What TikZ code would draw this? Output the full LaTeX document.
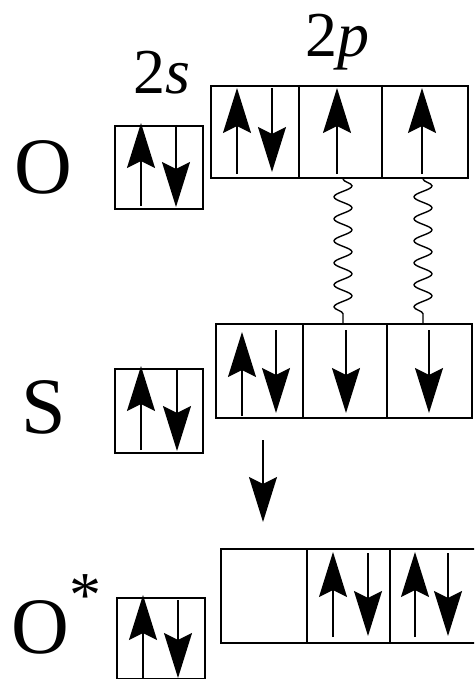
\documentclass[tikz,border=0pt]{standalone}
\usepackage{fontspec}
\setmainfont{Liberation Serif}
\newfontfamily\timesfont{Liberation Serif}
\usetikzlibrary{arrows.meta,decorations.pathmorphing}
\tikzset{
  orb/.style={draw=black, line width=1.8pt, inner sep=0pt, anchor=north west},
  divider/.style={line width=1.8pt},
  spin/.style={line width=1.6pt, -{Stealth[length=45pt, width=28pt, inset=7pt]}},
  bond/.style={line width=1.4pt, decorate, decoration={snake, segment length=22pt, amplitude=9pt}},
  atom/.style={font=\timesfont\fontsize{80}{80}\selectfont, inner sep=0pt},
  lvl/.style={font=\timesfont\fontsize{64}{64}\selectfont, inner sep=0pt},
}
\begin{document}
\begin{tikzpicture}[x=1pt, y=-1pt]
\useasboundingbox (0,0) rectangle (474,679);
\clip (0,0) rectangle (474,679);
% labels
\node[atom] (lO) at (43,167) {O};
\node[atom] (lS) at (44,407) {S};
\node[atom] (lOs) at (40,627) {O};
\node[lvl] (ast) at (85,596) {*};
\node[lvl] (l2s) at (162,73) {2\itshape s};
\node[lvl] (l2p) at (337,42) {2\itshape p};
% ---- O ----
\node[orb, minimum width=88pt, minimum height=83pt] (O2s) at (114,125) {};
\node[orb, minimum width=257pt, minimum height=92pt] (O2p) at (210,85) {};
\draw[divider] (299,85) -- (299,177);
\draw[divider] (382,85) -- (382,177);
\draw[spin] (141,206) -- (141,123);
\draw[spin] (176,125) -- (176,207);
\draw[spin] (237,174) -- (237,88);
\draw[spin] (272,88) -- (272,172);
\draw[spin] (337,174) -- (337,88);
\draw[spin] (422,174) -- (422,88);
% ---- S ----
\node[orb, minimum width=88pt, minimum height=84pt] (S2s) at (114,368) {};
\node[orb, minimum width=256pt, minimum height=94pt] (S2p) at (215,323) {};
\draw[divider] (303,323) -- (303,417);
\draw[divider] (387,323) -- (387,417);
\draw[spin] (141,450) -- (141,366);
\draw[spin] (177,368) -- (177,451);
\draw[spin] (242,416) -- (242,332);
\draw[spin] (276,330) -- (276,413);
\draw[spin] (346,330) -- (346,413);
\draw[spin] (429,330) -- (429,413);
% ---- wavy couplings ----
\coordinate (w1a) at (343,179);
\coordinate (w1b) at (343,323);
\coordinate (w2a) at (423,179);
\coordinate (w2b) at (423,323);
\draw[bond] (w1a) -- (w1b);
\draw[bond] (w2a) -- (w2b);
% ---- transition arrow ----
\coordinate (ta) at (263,440);
\coordinate (tb) at (263,522);
\draw[spin] (ta) -- (tb);
% ---- O* ----
\node[orb, minimum width=88pt, minimum height=81pt] (Os2s) at (116,597) {};
\node[orb, minimum width=270pt, minimum height=94pt] (Os2p) at (220,548) {};
\draw[divider] (307,548) -- (307,642);
\draw[divider] (390,548) -- (390,642);
\draw[spin] (143,678) -- (143,595);
\draw[spin] (178,600) -- (178,678);
\draw[spin] (333,637) -- (333,552);
\draw[spin] (368,553) -- (368,636);
\draw[spin] (415,637) -- (415,552);
\draw[spin] (448,553) -- (448,636);
\end{tikzpicture}
\end{document}
